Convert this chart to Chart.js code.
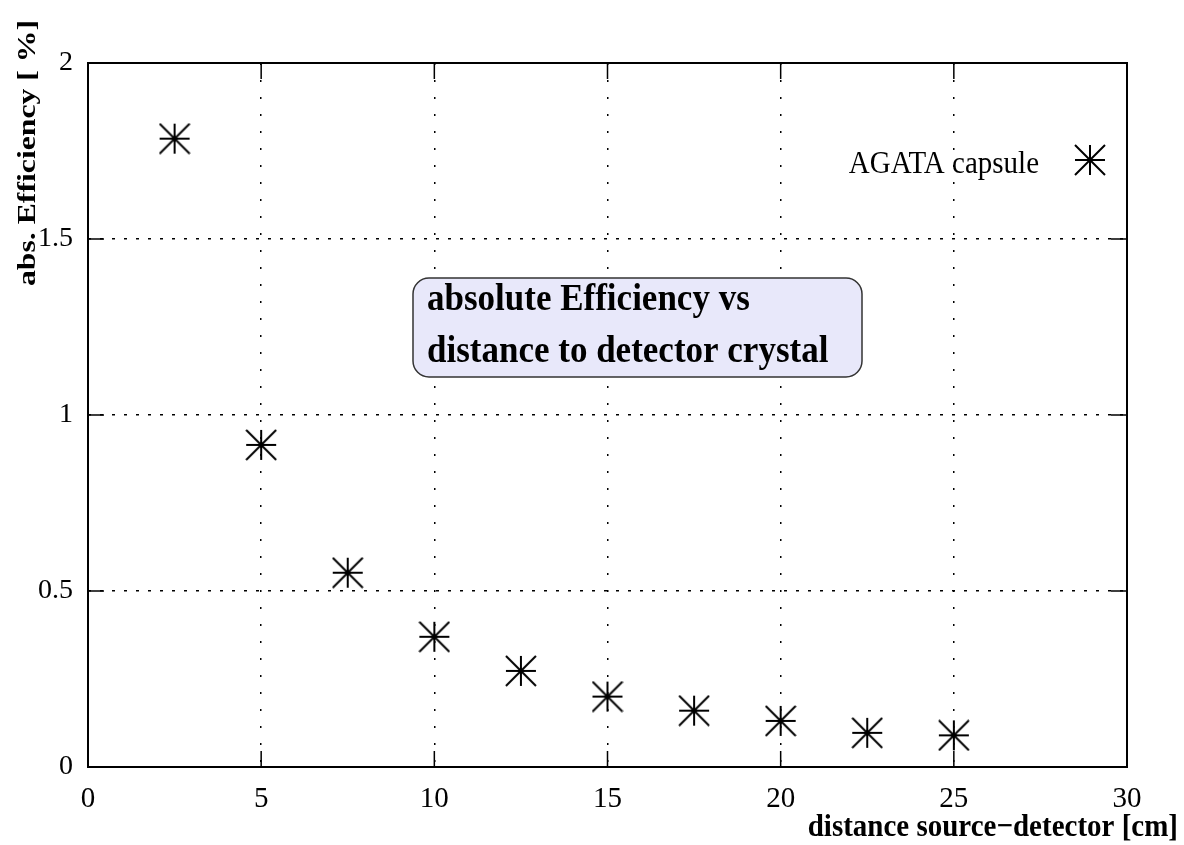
<!DOCTYPE html>
<html lang="en">
<head>
    <meta charset="UTF-8">
    <title>absolute Efficiency vs distance</title>
    <script src="https://cdn.jsdelivr.net/npm/chart.js"></script>
    <style>
        html, body { margin: 0; padding: 0; background: #ffffff; }
        #effChart { display: block; }
    </style>
</head>
<body>
    <canvas id="effChart" width="1184" height="845"></canvas>

    <script>
        // values
        const distances = [2.5, 5, 7.5, 10, 12.5, 15, 17.5, 20, 22.5, 25];
        const efficiency = [1.785, 0.915, 0.552, 0.37, 0.273, 0.2, 0.16, 0.131, 0.097, 0.09];
        const seriesLabel = 'AGATA capsule';
        const xTitle = 'distance source\u2212detector [cm]';
        const yTitle = 'abs. Efficiency [ %]';
        const boxLines = ['absolute Efficiency vs', 'distance to detector crystal'];

        const serif = '"Liberation Serif", "Times New Roman", serif';

        // gnuplot style asterisk marker
        function makeStar(size) {
            const c = document.createElement('canvas');
            c.width = size; c.height = size;
            const g = c.getContext('2d');
            const h = size / 2, r = h - 1;
            g.strokeStyle = '#000';
            g.lineWidth = 2;
            g.beginPath();
            g.moveTo(h - r, h); g.lineTo(h + r, h);
            g.moveTo(h, h - r); g.lineTo(h, h + r);
            g.moveTo(h - r, h - r); g.lineTo(h + r, h + r);
            g.moveTo(h - r, h + r); g.lineTo(h + r, h - r);
            g.stroke();
            return c;
        }
        const star = makeStar(32);

        // the original picture is a bit taller than wide, stretch text to match
        function tallText(ctx, text, x, y, sy) {
            ctx.save();
            ctx.translate(x, y);
            ctx.scale(1, sy);
            ctx.fillText(text, 0, 0);
            ctx.restore();
        }

        const decorations = {
            id: 'decorations',
            afterDraw(chart) {
                const { ctx, chartArea: a, scales } = chart;
                ctx.save();

                // inward tick marks on all four sides
                ctx.strokeStyle = '#000';
                ctx.lineWidth = 1.5;
                ctx.beginPath();
                scales.x.ticks.forEach(t => {
                    const px = scales.x.getPixelForValue(t.value);
                    ctx.moveTo(px, a.bottom); ctx.lineTo(px, a.bottom - 16);
                    ctx.moveTo(px, a.top); ctx.lineTo(px, a.top + 16);
                });
                scales.y.ticks.forEach(t => {
                    const py = scales.y.getPixelForValue(t.value);
                    ctx.moveTo(a.left, py); ctx.lineTo(a.left + 16, py);
                    ctx.moveTo(a.right, py); ctx.lineTo(a.right - 16, py);
                });
                ctx.stroke();

                // frame
                ctx.lineWidth = 2;
                ctx.strokeRect(a.left, a.top, a.right - a.left, a.bottom - a.top);

                // axis titles
                ctx.fillStyle = '#000';
                ctx.textBaseline = 'alphabetic';
                ctx.font = 'bold 29px ' + serif;
                ctx.textAlign = 'right';
                tallText(ctx, xTitle, 1178, 836, 1.12);

                ctx.save();
                ctx.translate(35, 286);
                ctx.rotate(-Math.PI / 2);
                ctx.scale(1.22, 1);
                ctx.font = 'bold 26px ' + serif;
                ctx.textAlign = 'left';
                ctx.fillText(yTitle, 0, 0);
                ctx.restore();

                // key
                ctx.font = '29px ' + serif;
                ctx.textAlign = 'right';
                tallText(ctx, chart.data.datasets[0].label, 1039, 173, 1.1);
                ctx.drawImage(star, 1090 - 16, 160 - 16);

                // label box
                const bx = 413, by = 278, bw = 449, bh = 99, rr = 16;
                ctx.beginPath();
                ctx.roundRect(bx, by, bw, bh, rr);
                ctx.fillStyle = '#e8e8fa';
                ctx.fill();
                ctx.lineWidth = 1.5;
                ctx.strokeStyle = '#333';
                ctx.stroke();
                ctx.fillStyle = '#000';
                ctx.font = 'bold 35px ' + serif;
                ctx.textAlign = 'left';
                tallText(ctx, boxLines[0], 427, 310, 1.08);
                tallText(ctx, boxLines[1], 427, 362, 1.08);

                ctx.restore();
            }
        };

        new Chart(document.getElementById('effChart'), {
            type: 'scatter',
            data: {
                datasets: [{
                    label: seriesLabel,
                    data: distances.map((d, i) => ({ x: d, y: efficiency[i] })),
                    pointStyle: star,
                    pointRadius: 16,
                    pointHoverRadius: 16
                }]
            },
            options: {
                responsive: false,
                animation: false,
                layout: { padding: { left: 0, top: 63, right: 57, bottom: 0 } },
                plugins: {
                    legend: { display: false },
                    tooltip: { enabled: false }
                },
                scales: {
                    x: {
                        type: 'linear',
                        min: 0, max: 30,
                        afterFit(scale) { scale.height = 78; },
                        ticks: {
                            stepSize: 5,
                            color: '#000',
                            padding: 15,
                            font: { family: serif, size: 29 }
                        },
                        grid: { color: '#000', lineWidth: 1.5, drawTicks: false },
                        border: { display: false, dash: [2, 15] }
                    },
                    y: {
                        min: 0, max: 2,
                        afterFit(scale) { scale.width = 88; },
                        ticks: {
                            stepSize: 0.5,
                            color: '#000',
                            padding: 15,
                            font: { family: serif, size: 28 },
                            callback: v => String(v)
                        },
                        grid: { color: '#000', lineWidth: 1.5, drawTicks: false },
                        border: { display: false, dash: [3, 9] }
                    }
                }
            },
            plugins: [decorations]
        });
    </script>
</body>
</html>
